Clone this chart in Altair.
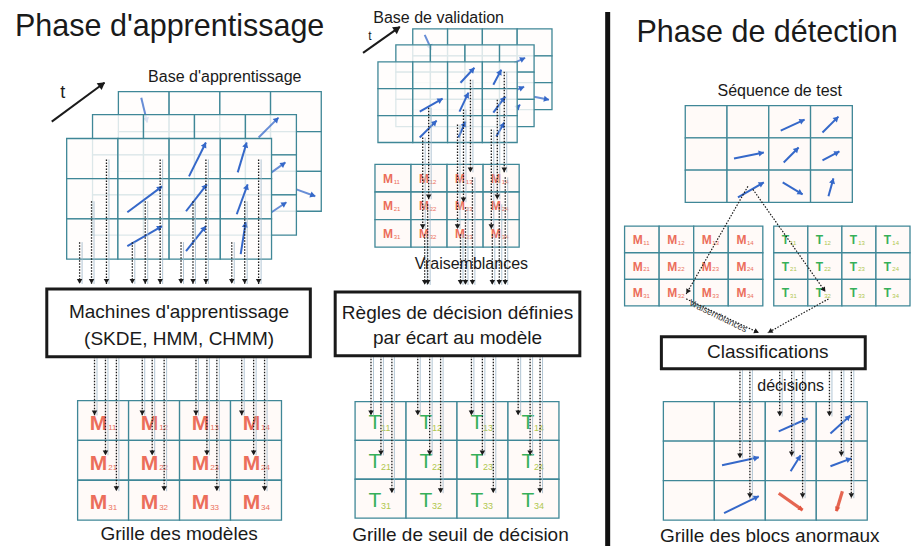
import math
import altair as alt
import pandas as pd

FONT = "Liberation Sans"
INK = "#1a1a1a"
GRID = "#3f8797"
BLUE = "#3568c9"
RED = "#e2553f"
MRED = "#ea5f4b"
TGREEN = "#1fa84a"
TSUB = "#a8c23a"
PALE = "#9db7c9"

W, H = 903, 538
XS = alt.Scale(domain=[8, 916], nice=False, zero=False)
YS = alt.Scale(domain=[8, 548], nice=False, zero=False, reverse=True)

# ---------------- texts ----------------
titles = ["Phase d'apprentissage", "Phase de détection"]
title_x = [15, 640]
title_y = [36, 42]

small_labels = ["Base d'apprentissage", "Base de validation", "Séquence de test",
                "Vraisemblances", "décisions"]
small_x = [226, 441, 784, 474, 795]
small_y = [77, 18, 91, 265, 387]

box_labels = ["Machines d'apprentissage", "(SKDE, HMM, CHMM)",
              "Règles de décision définies", "par écart au modèle", "Classifications"]
box_label_x = [180, 180, 460, 460, 772]
box_label_y = [313, 340, 314, 339, 353]

grid_captions = ["Grille des modèles", "Grille de seuil de décision", "Grille des blocs anormaux"]
caption_x = [180, 463, 774]
caption_y = [536, 537, 538]

t_labels = ["t", "t"]
t_x = [63, 372]
t_y = [93, 36]
t_size = [18, 12]

rot_label = ["Vraisemblances"]
rot_x = [722]
rot_y = [317]

# ---------------- boxes ----------------
box_x0 = [47, 337, 665]
box_x1 = [312, 583, 870]
box_y0 = [290, 293, 338]
box_y1 = [358, 357, 370]

# ---------------- stacked grids (3 rows x 4 cols) ----------------
stack_x0 = [119, 93, 67, 415, 398, 380]
stack_y0 = [92, 115, 139, 29, 45, 62]
stack_x1 = [323, 298, 273, 555, 537, 520]
stack_y1 = [212, 236, 260, 110, 127, 143]
stack_level = [0, 1, 2, 0, 1, 2]

# ---------------- flat grids (3 rows x 4 cols) ----------------
flat_x0 = [78, 377, 357, 689, 628, 778, 667]
flat_y0 = [402, 165, 403, 106, 227, 227, 403]
flat_x1 = [283, 522, 562, 857, 767, 915, 872]
flat_y1 = [522, 248, 520, 203, 307, 307, 522]
flat_letter = ["M", "M", "T", "", "M", "T", ""]
letter_size = [21, 12, 21, 0, 12, 12, 0]
letter_bold = ["bold", "bold", "normal", "normal", "bold", "bold", "normal"]
letter_color = [MRED, MRED, TGREEN, INK, MRED, TGREEN, INK]
sub_color = [MRED, MRED, TSUB, INK, MRED, TSUB, INK]
sub_size = [8, 6, 9, 0, 6, 6, 0]
letter_fx = [0.41, 0.36, 0.39, 0, 0.38, 0.34, 0]
letter_fy = [0.58, 0.52, 0.55, 0, 0.52, 0.52, 0]
sub_fx = [0.60, 0.52, 0.51, 0, 0.54, 0.48, 0]
sub_fy = [0.70, 0.62, 0.68, 0, 0.62, 0.62, 0]

# ---------------- blue motion arrows ----------------
# (level, x1, y1, x2, y2)
stack_arrows = [
    (0, 142, 98, 148, 123), (0, 298, 190, 317, 197),
    (1, 260, 138, 280, 118), (1, 273, 173, 287, 163), (1, 273, 213, 288, 203),
    (2, 190, 177, 207, 143), (2, 239, 173, 248, 143), (2, 128, 213, 163, 187),
    (2, 187, 212, 208, 185), (2, 238, 215, 249, 185), (2, 128, 247, 163, 227),
    (2, 187, 252, 207, 227), (2, 242, 255, 247, 223),
    (0, 427, 35, 434, 50), (0, 537, 97, 552, 100),
    (1, 517, 63, 528, 58), (1, 520, 90, 527, 87), (1, 520, 108, 523, 105),
    (2, 463, 83, 477, 68), (2, 496, 85, 504, 70), (2, 422, 112, 445, 99),
    (2, 462, 112, 471, 93), (2, 496, 113, 508, 97), (2, 422, 138, 439, 121),
    (2, 461, 138, 468, 122), (2, 499, 137, 507, 123),
]
flat_blue_arrows = [
    (785, 131, 809, 120), (827, 133, 843, 117), (738, 159, 768, 153),
    (788, 163, 803, 148), (827, 161, 844, 152), (742, 198, 768, 183),
    (787, 183, 807, 195), (833, 197, 838, 179),
    (783, 433, 812, 420), (835, 435, 855, 417), (726, 467, 763, 459),
    (795, 473, 805, 457), (835, 468, 856, 460), (728, 515, 763, 498),
]
red_arrows = [(783, 495, 807, 512), (847, 493, 841, 513)]

# ---------------- dotted flow arrows ----------------
learn_drop_x = [80, 92, 107, 133, 146, 161, 182, 194, 207, 233, 246, 260]
learn_drop_y0 = [243, 202, 160] * 4
learn_drop_y1 = [285] * 12

models_feed_x = [95, 106, 117, 143, 153, 165, 197, 208, 218, 243, 255, 266]
models_feed_y0 = [358] * 12
models_feed_y1 = [417, 457, 493] * 4

valid_up_x = [473, 466, 460, 507, 500, 494, 431, 425]
valid_up_y0 = [80, 110, 125, 72, 100, 130, 108, 138]
valid_up_y1 = [173, 203, 230, 173, 200, 230, 200, 230]

valid_low_x = [475, 468, 463, 508, 502, 495, 430, 427]
valid_low_y0 = [178, 208, 235, 178, 205, 235, 205, 235]
valid_low_y1 = [286] * 8

seuil_feed_x = [373, 383, 394, 420, 432, 443, 474, 485, 496, 521, 533, 543]
seuil_feed_y0 = [357] * 12
seuil_feed_y1 = [417, 457, 495] * 4

class_feed_x = [744, 754, 784, 796, 807, 834, 846, 856]
class_feed_y0 = [370] * 8
class_feed_y1 = [460, 500, 418, 458, 500, 418, 458, 500]

diag_arrows = [(752, 187, 690, 295), (757, 190, 830, 293),
               (690, 300, 763, 334), (833, 300, 772, 334)]

t_arrows = [(52, 122, 105, 83), (365, 53, 402, 27)]

sep_x = [611]
sep_y0 = [12]
sep_y1 = [548]


# ---------------- helpers ----------------
def X(f):
    return alt.X(f"{f}:Q", scale=XS, axis=None)


def Y(f):
    return alt.Y(f"{f}:Q", scale=YS, axis=None)


def cell_df(x0s, y0s, x1s, y1s, nr=3, nc=4):
    rows = []
    for x0, y0, x1, y1 in zip(x0s, y0s, x1s, y1s):
        w = (x1 - x0) / nc
        h = (y1 - y0) / nr
        for r in range(nr):
            for c in range(nc):
                rows.append(dict(x=x0 + c * w, x2=x0 + (c + 1) * w,
                                 y=y0 + r * h, y2=y0 + (r + 1) * h))
    return pd.DataFrame(rows)


def rect_layer(df, **kw):
    return alt.Chart(df).mark_rect(**kw).encode(
        x=X("x"), x2=alt.X2("x2:Q"), y=Y("y"), y2=alt.Y2("y2:Q"))


def seg_df(segs, dx=0.0):
    return pd.DataFrame([dict(x=a + dx, y=b, x2=c + dx, y2=d) for a, b, c, d in segs])


def seg_layer(segs, dx=0.0, **kw):
    return alt.Chart(seg_df(segs, dx)).mark_rule(**kw).encode(
        x=X("x"), x2=alt.X2("x2:Q"), y=Y("y"), y2=alt.Y2("y2:Q"))


def head_layer(segs, color, size, back):
    rows = []
    for x1, y1, x2, y2 in segs:
        dx, dy = x2 - x1, y2 - y1
        L = math.hypot(dx, dy) or 1.0
        ang = math.degrees(math.atan2(dx, -dy)) % 360
        rows.append(dict(x=x2 - dx / L * back, y=y2 - dy / L * back, a=ang))
    return alt.Chart(pd.DataFrame(rows)).mark_point(
        shape="triangle-up", filled=True, color=color, size=size, opacity=1,
        strokeWidth=0).encode(x=X("x"), y=Y("y"), angle=alt.Angle("a:Q", scale=None))


def text_layer(xs, ys, texts, **kw):
    df = pd.DataFrame(dict(x=xs, y=ys, t=texts))
    return alt.Chart(df).mark_text(font=FONT, **kw).encode(x=X("x"), y=Y("y"), text="t:N")


def vsegs(xs, y0s, y1s):
    return [(x, a, x, b) for x, a, b in zip(xs, y0s, y1s)]


layers = []

# stacked grids, back to front
for lvl in range(3):
    idx = [i for i, l in enumerate(stack_level) if l == lvl]
    df = cell_df([stack_x0[i] for i in idx], [stack_y0[i] for i in idx],
                 [stack_x1[i] for i in idx], [stack_y1[i] for i in idx])
    layers.append(rect_layer(df, fill="#fffdfb", fillOpacity=0.82,
                             stroke=GRID, strokeWidth=1.3))
    segs = [s[1:] for s in stack_arrows if s[0] == lvl]
    op = 0.75 if lvl < 2 else 1.0
    layers.append(seg_layer(segs, color=BLUE, strokeWidth=2, opacity=op))
    layers.append(head_layer(segs, BLUE, 38, 2.5))

# flat grids
layers.append(rect_layer(cell_df(flat_x0, flat_y0, flat_x1, flat_y1),
                         fill="#fffaf8", stroke=GRID, strokeWidth=1.3))

# grid labels (letters with subscripts)
for g in range(len(flat_x0)):
    if not flat_letter[g]:
        continue
    w = (flat_x1[g] - flat_x0[g]) / 4
    h = (flat_y1[g] - flat_y0[g]) / 3
    lx, ly, lt, sx, sy, st = [], [], [], [], [], []
    for r in range(3):
        for c in range(4):
            cx = flat_x0[g] + c * w
            cy = flat_y0[g] + r * h
            lx.append(cx + letter_fx[g] * w)
            ly.append(cy + letter_fy[g] * h)
            lt.append(flat_letter[g])
            sx.append(cx + sub_fx[g] * w)
            sy.append(cy + sub_fy[g] * h)
            st.append(f"{r + 1}{c + 1}")
    layers.append(text_layer(lx, ly, lt, fontSize=letter_size[g], fontWeight=letter_bold[g],
                             color=letter_color[g], baseline="middle", align="center",
                             opacity=0.9))
    layers.append(text_layer(sx, sy, st, fontSize=sub_size[g], color=sub_color[g],
                             baseline="middle", align="left", opacity=0.9))

# blue arrows on flat grids
layers.append(seg_layer(flat_blue_arrows, color=BLUE, strokeWidth=2))
layers.append(head_layer(flat_blue_arrows, BLUE, 38, 2.5))
layers.append(seg_layer(red_arrows, color=RED, strokeWidth=3.2, opacity=0.9))
layers.append(head_layer(red_arrows, RED, 30, 2))

# dotted flow arrows
vertical = (vsegs(learn_drop_x, learn_drop_y0, learn_drop_y1)
            + vsegs(models_feed_x, models_feed_y0, models_feed_y1)
            + vsegs(valid_up_x, valid_up_y0, valid_up_y1)
            + vsegs(valid_low_x, valid_low_y0, valid_low_y1)
            + vsegs(seuil_feed_x, seuil_feed_y0, seuil_feed_y1)
            + vsegs(class_feed_x, class_feed_y0, class_feed_y1))
layers.append(seg_layer(vertical, dx=2.5, color=PALE, strokeWidth=1, opacity=0.8))
layers.append(seg_layer(vertical, color=INK, strokeWidth=1.3, strokeDash=[1.5, 1.5]))
layers.append(seg_layer(diag_arrows, color=INK, strokeWidth=1.2, strokeDash=[1.5, 1.5]))
layers.append(head_layer(vertical + diag_arrows, INK, 30, 2.5))

# boxes
layers.append(rect_layer(pd.DataFrame(dict(x=box_x0, x2=box_x1, y=box_y0, y2=box_y1)),
                         fill="white", stroke=INK, strokeWidth=3))

# t arrows
layers.append(seg_layer(t_arrows, color=INK, strokeWidth=2))
layers.append(head_layer(t_arrows, INK, 70, 3))

# separator
layers.append(alt.Chart(pd.DataFrame(dict(x=sep_x, y=sep_y0, y2=sep_y1))).mark_rule(
    color="#111", strokeWidth=5).encode(x=X("x"), y=Y("y"), y2=alt.Y2("y2:Q")))

# texts
layers.append(text_layer(title_x, title_y, titles, fontSize=30.5, color=INK,
                         align="left", baseline="alphabetic"))
layers.append(text_layer(small_x, small_y, small_labels, fontSize=16, color=INK,
                         align="center", baseline="middle"))
layers.append(text_layer(box_label_x, box_label_y, box_labels, fontSize=19, color=INK,
                         align="center", baseline="middle"))
layers.append(text_layer(caption_x, caption_y, grid_captions, fontSize=19, color=INK,
                         align="center", baseline="middle"))
for i in range(2):
    layers.append(text_layer([t_x[i]], [t_y[i]], [t_labels[i]], fontSize=t_size[i],
                             color=INK, align="center", baseline="middle"))
layers.append(text_layer(rot_x, rot_y, rot_label, fontSize=9, color="#333",
                         align="center", baseline="middle", angle=26))

chart = alt.layer(*layers).properties(
    width=W, height=H, padding=0,
    autosize=alt.AutoSizeParams(type="none"),
    background="white",
).configure_view(stroke=None)

chart.save("out.html", embed_options={"renderer": "svg", "actions": False})
